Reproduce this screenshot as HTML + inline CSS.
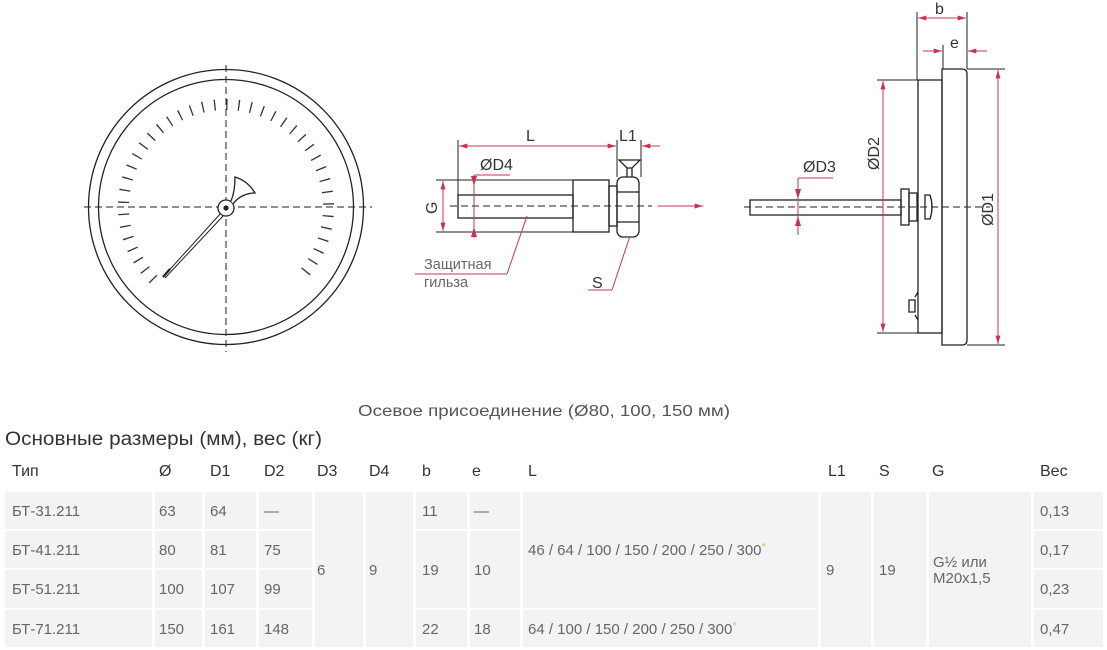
<!DOCTYPE html>
<html><head><meta charset="utf-8"><style>
html,body{margin:0;padding:0;background:#fff;}
svg{display:block;font-family:"Liberation Sans",sans-serif;}
</style></head><body>
<svg width="1107" height="650" viewBox="0 0 1107 650" xmlns="http://www.w3.org/2000/svg">
<defs>
<marker id="a" viewBox="0 0 10 6" refX="10" refY="3" markerWidth="9" markerHeight="5" orient="auto-start-reverse" markerUnits="userSpaceOnUse"><path d="M0 0L10 3L0 6Z" fill="#c8344f"/></marker>
</defs>
<!-- Dial -->
<g fill="none" stroke="#222" stroke-width="1.3">
<circle cx="226" cy="207" r="137.5"/>
<circle cx="226" cy="207" r="127.5"/>
<path d="M153.5 279.5 A102.5 102.5 0 1 1 298.5 279.5" stroke-width="11" stroke-dasharray="1.3 10.78" stroke="#333"/>
<line x1="84" y1="207" x2="372" y2="207" stroke-dasharray="7 4" stroke-width="1"/>
<line x1="226" y1="65" x2="226" y2="352" stroke-dasharray="7 4" stroke-width="1"/>
<path d="M221 213 L163 277 M224 215 L165 278" stroke-width="1"/>
<line x1="163" y1="277" x2="170" y2="269" stroke-width="2.2"/>
<circle cx="226" cy="208" r="8" fill="#fff"/>
<circle cx="226" cy="208" r="2" fill="#222"/>
<path d="M231 201 C234 194 235 186 235 177 Q248 181 255 193 C246 193 238 197 233 204" fill="#fff"/>
</g>
<!-- Middle drawing -->
<g fill="none" stroke="#222" stroke-width="1.3">
<rect x="458" y="195" width="115" height="23"/>
<rect x="573" y="180" width="36" height="52"/>
<rect x="609" y="186" width="8" height="40"/>
<rect x="617" y="177" width="22" height="60" rx="6"/>
<line x1="617" y1="192" x2="639" y2="192"/><line x1="617" y1="222" x2="639" y2="222"/>
<path d="M619 160 L640 160 L632 168 L627 168 Z M627 168 L627 177 M632 168 L632 177"/>
<line x1="436" y1="180" x2="573" y2="180" stroke-width="1"/>
<line x1="436" y1="232" x2="573" y2="232" stroke-width="1"/>
<line x1="458" y1="140" x2="458" y2="195" stroke-width="1"/>
<line x1="617" y1="140" x2="617" y2="177" stroke-width="1"/>
<line x1="641" y1="140" x2="641" y2="177" stroke-width="1"/>
<line x1="450" y1="206" x2="652" y2="206" stroke-dasharray="7 4" stroke-width="1"/>
</g>
<g stroke="#c8344f" stroke-width="1" fill="none">
<line x1="658" y1="206" x2="703" y2="206" marker-end="url(#a)"/>
<line x1="443" y1="181" x2="443" y2="231" marker-start="url(#a)" marker-end="url(#a)"/>
<line x1="474" y1="175" x2="474" y2="238"/><line x1="474" y1="175" x2="510" y2="175"/>
<path d="M474 186 L471 176 L477 176Z M474 227 L471 237 L477 237Z" fill="#c8344f" stroke="none"/>
<line x1="459" y1="146" x2="616" y2="146" marker-start="url(#a)" marker-end="url(#a)"/>
<line x1="660" y1="146" x2="642" y2="146" marker-end="url(#a)"/>
<line x1="415" y1="274" x2="507" y2="274"/><line x1="507" y1="274" x2="527" y2="216"/>
<line x1="588" y1="290" x2="612" y2="290"/><line x1="612" y1="290" x2="630" y2="236"/>
</g>
<g fill="#333" font-size="16">
<text x="526" y="141">L</text>
<text x="619" y="141">L1</text>
<text x="480" y="170">ØD4</text>
<text transform="translate(437,214) rotate(-90)">G</text>
<text x="424" y="269" fill="#666" font-size="14.5">Защитная</text>
<text x="424" y="287" fill="#666" font-size="14.5">гильза</text>
<text x="592" y="288">S</text>
</g>
<!-- Right drawing -->
<g fill="none" stroke="#222" stroke-width="1.3">
<rect x="750" y="200" width="151" height="15"/>
<rect x="901" y="189" width="8" height="36"/>
<rect x="909" y="193" width="8" height="28"/>
<rect x="918" y="80" width="24" height="253"/>
<path d="M942 69 L962 69 Q967 69 967 74 L967 340 Q967 345 962 345 L942 345 Z"/>
<path d="M925 195 L930 195 Q934 207 930 219 L925 219 Z"/>
<path d="M909 300 L915 300 L915 312 L909 312 Z M915 297 L918 292 M915 315 L918 320"/>
<line x1="744" y1="207" x2="990" y2="207" stroke-dasharray="7 4" stroke-width="1"/>
<line x1="917" y1="12" x2="917" y2="80" stroke-width="1"/>
<line x1="967" y1="12" x2="967" y2="69" stroke-width="1"/>
<line x1="943" y1="45" x2="943" y2="69" stroke-width="1"/>
<line x1="877" y1="80" x2="918" y2="80" stroke-width="1"/>
<line x1="877" y1="333" x2="918" y2="333" stroke-width="1"/>
<line x1="967" y1="69" x2="1005" y2="69" stroke-width="1"/>
<line x1="967" y1="345" x2="1005" y2="345" stroke-width="1"/>
</g>
<g stroke="#c8344f" stroke-width="1" fill="none">
<line x1="918" y1="18" x2="966" y2="18" marker-start="url(#a)" marker-end="url(#a)"/>
<line x1="923" y1="51" x2="942" y2="51" marker-end="url(#a)"/>
<line x1="987" y1="51" x2="968" y2="51" marker-end="url(#a)"/>
<line x1="883" y1="81" x2="883" y2="332" marker-start="url(#a)" marker-end="url(#a)"/>
<line x1="998" y1="70" x2="998" y2="344" marker-start="url(#a)" marker-end="url(#a)"/>
<line x1="798" y1="178" x2="798" y2="235"/><line x1="798" y1="178" x2="833" y2="178"/>
<path d="M798 199 L795 189 L801 189Z M798 216 L795 226 L801 226Z" fill="#c8344f" stroke="none"/>
</g>
<g fill="#333" font-size="16">
<text x="935" y="14">b</text>
<text x="950" y="48">e</text>
<text x="803" y="172">ØD3</text>
<text transform="translate(879,170) rotate(-90)">ØD2</text>
<text transform="translate(993,226) rotate(-90)">ØD1</text>
</g>
<!-- Captions -->
<text x="358" y="416" font-size="16" fill="#555" textLength="372" lengthAdjust="spacingAndGlyphs">Осевое присоединение (Ø80, 100, 150 мм)</text>
<text x="5" y="445" font-size="19.5" fill="#333" textLength="317" lengthAdjust="spacingAndGlyphs">Основные размеры (мм), вес (кг)</text>
<!-- Table -->
<g fill="#f2f3f4">
<rect x="5" y="492" width="147" height="37"/><rect x="5" y="531" width="147" height="37"/><rect x="5" y="570" width="147" height="38"/><rect x="5" y="610" width="147" height="37"/>
<rect x="155" y="492" width="47" height="37"/><rect x="155" y="531" width="47" height="37"/><rect x="155" y="570" width="47" height="38"/><rect x="155" y="610" width="47" height="37"/>
<rect x="205" y="492" width="51" height="37"/><rect x="205" y="531" width="51" height="37"/><rect x="205" y="570" width="51" height="38"/><rect x="205" y="610" width="51" height="37"/>
<rect x="259" y="492" width="53" height="37"/><rect x="259" y="531" width="53" height="37"/><rect x="259" y="570" width="53" height="38"/><rect x="259" y="610" width="53" height="37"/>
<rect x="315" y="492" width="48" height="155"/>
<rect x="366" y="492" width="47" height="155"/>
<rect x="416" y="492" width="51" height="37"/><rect x="416" y="531" width="51" height="77"/><rect x="416" y="610" width="51" height="37"/>
<rect x="470" y="492" width="50" height="37"/><rect x="470" y="531" width="50" height="77"/><rect x="470" y="610" width="50" height="37"/>
<rect x="523" y="492" width="295" height="116"/><rect x="523" y="610" width="295" height="37"/>
<rect x="821" y="492" width="50" height="155"/>
<rect x="874" y="492" width="52" height="155"/>
<rect x="929" y="492" width="102" height="155"/>
<rect x="1034" y="492" width="69" height="37"/><rect x="1034" y="531" width="69" height="37"/><rect x="1034" y="570" width="69" height="38"/><rect x="1034" y="610" width="69" height="37"/>
</g>
<g font-size="16" fill="#333">
<text x="12" y="476">Тип</text><text x="159" y="476">Ø</text><text x="210" y="476">D1</text><text x="264" y="476">D2</text><text x="317" y="476">D3</text><text x="369" y="476">D4</text><text x="422" y="476">b</text><text x="472" y="476">e</text><text x="528" y="476">L</text><text x="828" y="476">L1</text><text x="879" y="476">S</text><text x="932" y="476">G</text><text x="1040" y="476">Вес</text>
</g>
<g font-size="15" fill="#666">
<text x="12" y="516">БТ-31.211</text><text x="12" y="555">БТ-41.211</text><text x="12" y="594">БТ-51.211</text><text x="12" y="634">БТ-71.211</text>
<text x="159" y="516">63</text><text x="159" y="555">80</text><text x="159" y="594">100</text><text x="159" y="634">150</text>
<text x="210" y="516">64</text><text x="210" y="555">81</text><text x="210" y="594">107</text><text x="210" y="634">161</text>
<text x="264" y="516">—</text><text x="264" y="555">75</text><text x="264" y="594">99</text><text x="264" y="634">148</text>
<text x="317" y="575">6</text><text x="369" y="575">9</text>
<text x="422" y="516">11</text><text x="422" y="575">19</text><text x="422" y="634">22</text>
<text x="474" y="516">—</text><text x="474" y="575">10</text><text x="474" y="634">18</text>
<text x="528" y="555">46 / 64 / 100 / 150 / 200 / 250 / 300<tspan fill="#b5d36a" font-size="11" dy="-5">*</tspan></text>
<text x="528" y="634">64 / 100 / 150 / 200 / 250 / 300<tspan fill="#b5d36a" font-size="11" dy="-5">*</tspan></text>
<text x="826" y="575">9</text><text x="879" y="575">19</text>
<text x="933" y="567">G½ или</text><text x="933" y="583">M20x1,5</text>
<text x="1040" y="516">0,13</text><text x="1040" y="555">0,17</text><text x="1040" y="594">0,23</text><text x="1040" y="634">0,47</text>
</g>
</svg>
</body></html>
